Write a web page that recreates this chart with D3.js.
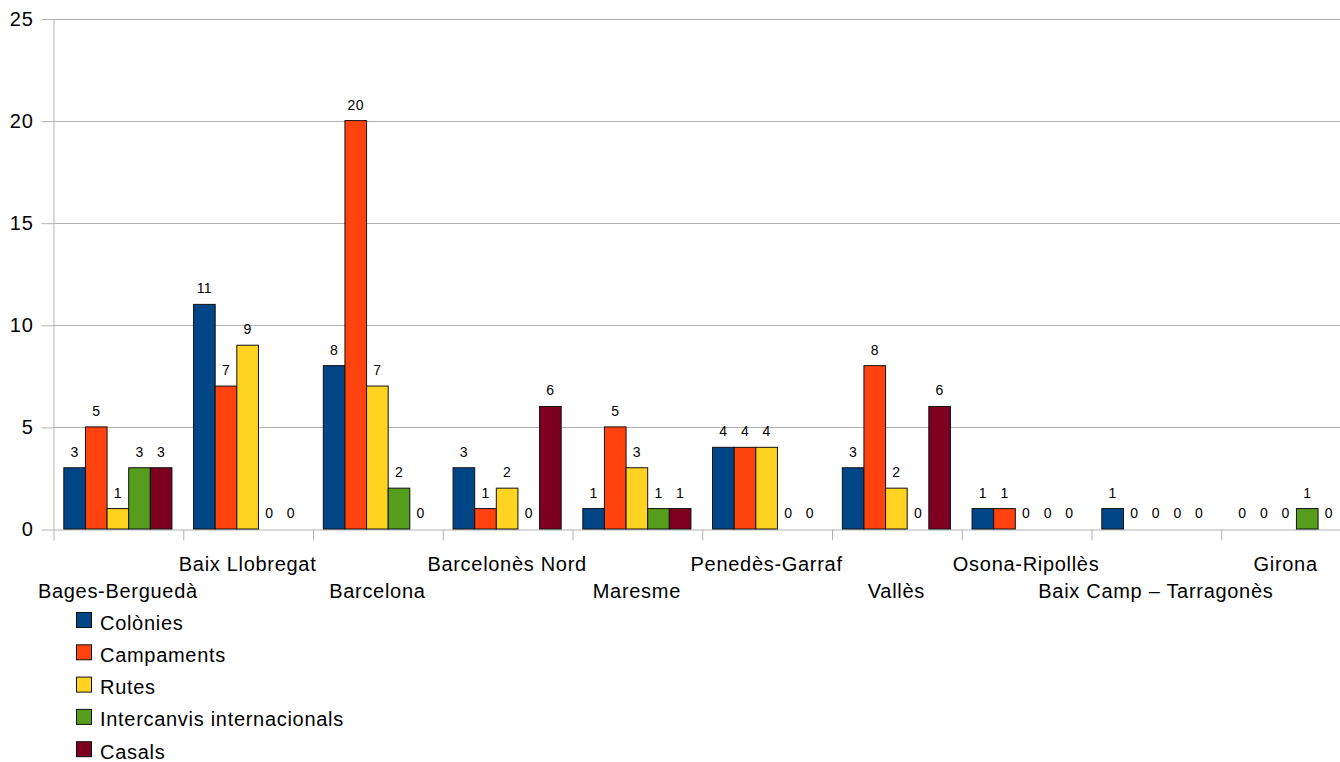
<!DOCTYPE html>
<html>
<head>
<meta charset="utf-8">
<script src="https://cdn.jsdelivr.net/npm/d3@7"></script>
<style>
  body { margin: 0; background: #fff; }
  svg { display: block; font-family: "Liberation Sans", Arial, sans-serif; }
</style>
</head>
<body>
<div id="chart"></div>
<script>
const categories = ['Bages-Berguedà', 'Baix Llobregat', 'Barcelona', 'Barcelonès Nord', 'Maresme',
  'Penedès-Garraf', 'Vallès', 'Osona-Ripollès', 'Baix Camp – Tarragonès', 'Girona'];
const seriesNames = ['Colònies', 'Campaments', 'Rutes', 'Intercanvis internacionals', 'Casals'];
const seriesColors = ['#004586', '#ff420e', '#ffd320', '#579d1c', '#7e0021'];

const colonies = [3, 11, 8, 3, 1, 4, 3, 1, 1, 0];
const campaments = [5, 7, 20, 1, 5, 4, 8, 1, 0, 0];
const rutes = [1, 9, 7, 2, 3, 4, 2, 0, 0, 0];
const intercanvis = [3, 0, 2, 0, 1, 0, 0, 0, 0, 1];
const casals = [3, 0, 0, 6, 1, 0, 6, 0, 0, 0];
const yTicks = [0, 5, 10, 15, 20, 25];

const series = [colonies, campaments, rutes, intercanvis, casals];

const width = 1340, height = 762;
const margin = { top: 18.5, left: 53, bottom: 233 };
const plotRight = 1350.5;
const baseY = height - margin.bottom;

const svg = d3.select('#chart').append('svg')
  .attr('width', width)
  .attr('height', height);

const x = d3.scaleBand().domain(categories).range([margin.left, plotRight]).padding(0);
const xSub = d3.scaleBand().domain(d3.range(seriesNames.length))
  .range([0, x.bandwidth()]).paddingInner(0).paddingOuter(0.5);
const xIdx = d3.scaleLinear().domain([0, categories.length]).range([margin.left, plotRight]);
const y = d3.scaleLinear().domain([0, 25]).range([baseY, margin.top]);

// gridlines
svg.append('g')
  .selectAll('line')
  .data(yTicks.slice(1))
  .enter()
  .append('line')
  .attr('x1', margin.left)
  .attr('x2', plotRight)
  .attr('y1', d => Math.round(y(d)) + 0.5)
  .attr('y2', d => Math.round(y(d)) + 0.5)
  .attr('stroke', '#b3b3b3')
  .attr('stroke-width', 1);

// y axis
const yAxis = svg.append('g')
  .attr('transform', `translate(${margin.left + 0.5},0.5)`)
  .call(d3.axisLeft(y).tickValues(yTicks).tickSizeInner(12).tickSizeOuter(0).tickPadding(8));
yAxis.selectAll('line, path').attr('stroke', '#b3b3b3');
yAxis.selectAll('text').attr('font-size', '20px').attr('fill', '#000')
  .attr('letter-spacing', '0.7px')
  .attr('font-family', '"Liberation Sans", Arial, sans-serif');

// x axis with boundary ticks
const xAxis = svg.append('g')
  .attr('transform', `translate(0.5,${Math.round(baseY) + 0.5})`)
  .call(d3.axisBottom(xIdx).tickValues(d3.range(categories.length + 1))
    .tickFormat('').tickSizeInner(11).tickSizeOuter(0));
xAxis.selectAll('line, path').attr('stroke', '#b3b3b3');

// bars
const groups = svg.append('g')
  .selectAll('g')
  .data(categories)
  .enter()
  .append('g')
  .attr('transform', d => `translate(${x(d)},0)`);

groups.selectAll('rect')
  .data((d, i) => series.map((s, k) => ({ k: k, v: s[i] })).filter(e => e.v > 0))
  .enter()
  .append('rect')
  .attr('x', d => xSub(d.k))
  .attr('y', d => y(d.v))
  .attr('width', xSub.bandwidth())
  .attr('height', d => baseY - y(d.v))
  .attr('fill', d => seriesColors[d.k])
  .attr('stroke', '#111')
  .attr('stroke-width', 1);

// value labels
groups.selectAll('text')
  .data((d, i) => series.map((s, k) => ({ k: k, v: s[i] })))
  .enter()
  .append('text')
  .attr('x', d => xSub(d.k) + xSub.bandwidth() / 2)
  .attr('y', d => y(d.v) - 11)
  .attr('text-anchor', 'middle')
  .attr('font-size', '14px')
  .attr('letter-spacing', '0.4px')
  .attr('fill', '#000')
  .text(d => d.v);

// category labels, staggered in two rows
svg.append('g')
  .selectAll('text')
  .data(categories)
  .enter()
  .append('text')
  .attr('x', d => x(d) + x.bandwidth() / 2)
  .attr('y', (d, i) => i % 2 === 0 ? 597.5 : 570.5)
  .attr('text-anchor', 'middle')
  .attr('font-size', '20px')
  .attr('letter-spacing', '0.7px')
  .attr('fill', '#000')
  .text(d => d);

// legend
const legend = svg.append('g')
  .attr('transform', 'translate(76,612)')
  .selectAll('g')
  .data(seriesNames)
  .enter()
  .append('g')
  .attr('transform', (d, i) => `translate(0,${i * 32.3})`);

legend.append('rect')
  .attr('width', 15)
  .attr('height', 15)
  .attr('x', 0.5)
  .attr('y', 0.5)
  .attr('fill', (d, i) => seriesColors[i])
  .attr('stroke', '#111');

legend.append('text')
  .attr('x', 24)
  .attr('y', 17.5)
  .attr('font-size', '20px')
  .attr('letter-spacing', '0.7px')
  .attr('fill', '#000')
  .text(d => d);
</script>
</body>
</html>
